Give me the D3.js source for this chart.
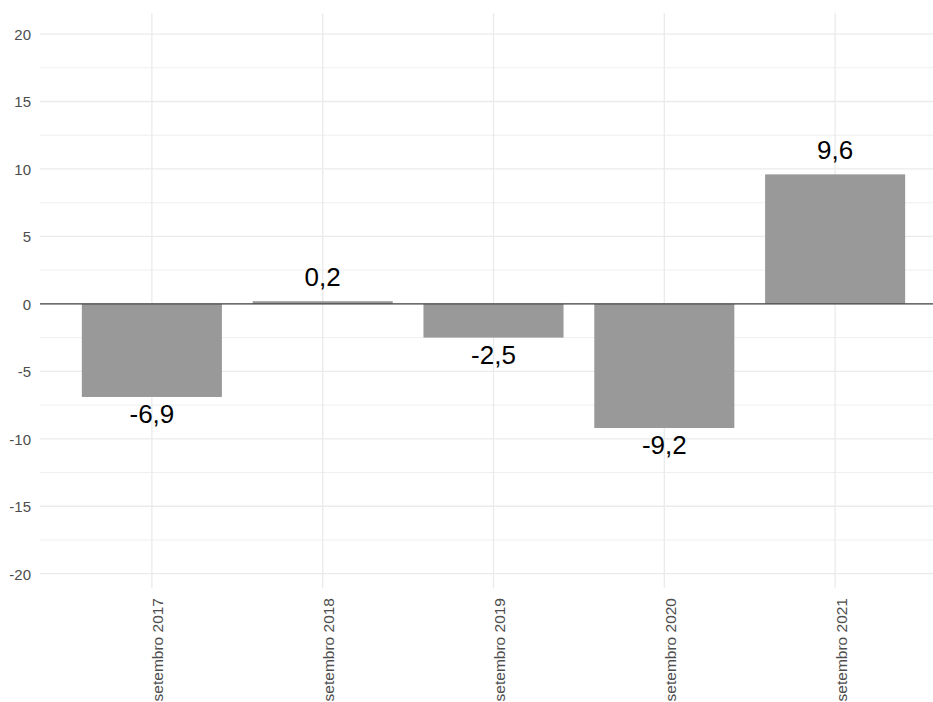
<!DOCTYPE html>
<html>
<head>
<meta charset="utf-8">
<script src="https://cdn.jsdelivr.net/npm/d3@7"></script>
<style>
  html, body { margin: 0; padding: 0; background: #ffffff; }
  svg { display: block; }
</style>
</head>
<body>
<svg id="chart" width="933" height="702"></svg>
<script>
const categories = ["setembro 2017", "setembro 2018", "setembro 2019", "setembro 2020", "setembro 2021"];
const values = [-6.9, 0.2, -2.5, -9.2, 9.6];
const labels = ["-6,9", "0,2", "-2,5", "-9,2", "9,6"];
const yTicks = [-20, -15, -10, -5, 0, 5, 10, 15, 20];
const yMinor = [-17.5, -12.5, -7.5, -2.5, 2.5, 7.5, 12.5, 17.5];

const W = 933, H = 702;
const panel = { left: 40, right: 933, top: 13, bottom: 588 };

const svg = d3.select("#chart");

const y = d3.scaleLinear().domain([-21.06, 21.56]).range([panel.bottom, panel.top]);
const x = d3.scalePoint().domain(categories).range([40, 947]).padding(0.655);
const barW = x.step() * 0.82;

const grid = svg.append("g");
grid.selectAll("line.minor").data(yMinor).join("line")
  .attr("x1", panel.left).attr("x2", panel.right)
  .attr("y1", d => y(d)).attr("y2", d => y(d))
  .attr("stroke", "#efefef").attr("stroke-width", 1);
grid.selectAll("line.major").data(yTicks).join("line")
  .attr("x1", panel.left).attr("x2", panel.right)
  .attr("y1", d => y(d)).attr("y2", d => y(d))
  .attr("stroke", "#ebebeb").attr("stroke-width", 1.3);
grid.selectAll("line.vmajor").data(categories).join("line")
  .attr("x1", d => x(d)).attr("x2", d => x(d))
  .attr("y1", panel.top).attr("y2", panel.bottom)
  .attr("stroke", "#ebebeb").attr("stroke-width", 1.3);

svg.append("g").selectAll("rect").data(values).join("rect")
  .attr("x", (d, i) => x(categories[i]) - barW / 2)
  .attr("width", barW)
  .attr("y", d => Math.min(y(d), y(0)))
  .attr("height", d => Math.abs(y(d) - y(0)))
  .attr("fill", "#999999");

svg.append("line")
  .attr("x1", panel.left).attr("x2", panel.right)
  .attr("y1", y(0)).attr("y2", y(0))
  .attr("stroke", "#444444").attr("stroke-width", 1.3);

svg.append("g").selectAll("text").data(values).join("text")
  .attr("x", (d, i) => x(categories[i]))
  .attr("y", d => d >= 0 ? y(d) - 15.5 : y(d) + 26)
  .attr("text-anchor", "middle")
  .attr("font-family", "Liberation Sans, Arial, sans-serif")
  .attr("font-size", 26)
  .attr("fill", "#000000")
  .text((d, i) => labels[i]);

const yAxis = d3.axisLeft(y).tickValues(yTicks).tickSize(0).tickPadding(0).tickFormat(d => d);
const ya = svg.append("g").attr("transform", `translate(31,0)`).call(yAxis);
ya.select(".domain").remove();
ya.selectAll("text")
  .attr("font-family", "Liberation Sans, Arial, sans-serif")
  .attr("font-size", 15)
  .attr("fill", "#4d4d4d")
  .attr("dy", "0.36em");

const xa = svg.append("g");
xa.selectAll("text").data(categories).join("text")
  .attr("transform", d => `translate(${x(d) + 11.5},598) rotate(-90)`)
  .attr("text-anchor", "end")
  .attr("font-family", "Liberation Sans, Arial, sans-serif")
  .attr("font-size", 15.5)
  .attr("fill", "#4d4d4d")
  .text(d => d);
</script>
</body>
</html>
